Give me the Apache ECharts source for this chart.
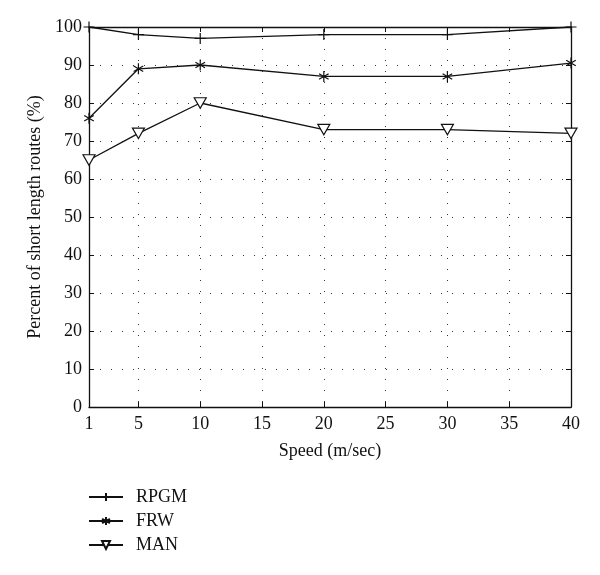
<!DOCTYPE html>
<html>
<head>
<meta charset="utf-8">
<script src="https://cdn.jsdelivr.net/npm/echarts@6/dist/echarts.min.js"></script>
<style>html,body{margin:0;padding:0;background:#fff}#c{width:600px;height:575px}</style>
</head>
<body>
<div id="c"></div>
<script>
var speeds = [1, 5, 10, 20, 30, 40];
var rpgm = [100, 98, 97, 98, 98, 100];
var frw = [76, 89, 90, 87, 87, 90.5];
var man = [65, 72, 80, 73, 73, 72];
var xTicks = [1, 5, 10, 15, 20, 25, 30, 35, 40];
var seriesNames = ['RPGM', 'FRW', 'MAN'];

var font = 'Liberation Serif';
var ink = '#111';
function pairs(ys) { return speeds.map(function (x, i) { return [x, ys[i]]; }); }

var plusSym = 'path://M0,-1L0,1M-1,0L1,0';
var starSym = 'path://M0,-1L0,1M-0.87,-0.5L0.87,0.5M-0.87,0.5L0.87,-0.5';
var triSym = 'path://M-1,-0.85L1,-0.85L0,0.9Z';

var chart = echarts.init(document.getElementById('c'));
function mk(name, ys, sym, size, fill) {
  return {
    name: name, type: 'line', data: pairs(ys), xAxisIndex: 0, yAxisIndex: 0,
    symbol: sym, symbolSize: size, symbolKeepAspect: true, showSymbol: true,
    lineStyle: { color: ink, width: 1.3 },
    itemStyle: { color: fill, borderColor: ink, borderWidth: 1.2 },
    emphasis: { disabled: true }, animation: false, z: 5
  };
}
chart.setOption({
  animation: false,
  textStyle: { fontFamily: font, color: ink },
  grid: { left: 89, right: 29, top: 27, bottom: 168 },
  legend: {
    orient: 'vertical', left: 88, top: 488, padding: 0, itemGap: 6, itemWidth: 34, itemHeight: 10,
    textStyle: { fontFamily: font, fontSize: 18, color: ink, padding: [0, 0, 0, 8] },
    data: seriesNames
  },
  xAxis: [{
    type: 'value', min: 1, max: 40, position: 'bottom',
    name: 'Speed (m/sec)', nameLocation: 'middle', nameGap: 35,
    nameTextStyle: { fontFamily: font, fontSize: 18, color: ink },
    axisLine: { lineStyle: { color: ink, width: 1.3 } },
    axisTick: { inside: true, length: 5, customValues: xTicks, lineStyle: { color: ink } },
    axisLabel: { customValues: xTicks, fontFamily: font, fontSize: 18, color: ink, margin: 8 },
    splitLine: { show: true, lineStyle: { color: '#333', type: [1, 10], width: 1 } }
  }, {
    type: 'value', min: 1, max: 40, position: 'top',
    axisLine: { show: true, onZero: false, lineStyle: { color: ink, width: 1.3 } },
    axisTick: { show: true, inside: true, length: 5, customValues: xTicks, lineStyle: { color: ink } },
    axisLabel: { show: false }, splitLine: { show: false }
  }],
  yAxis: [{
    type: 'value', min: 0, max: 100, interval: 10, position: 'left',
    name: 'Percent of short length routes (%)', nameLocation: 'middle', nameGap: 43,
    nameTextStyle: { fontFamily: font, fontSize: 18, color: ink },
    axisLine: { show: true, lineStyle: { color: ink, width: 1.3 } },
    axisTick: { show: true, inside: true, length: 5, lineStyle: { color: ink } },
    axisLabel: { fontFamily: font, fontSize: 18, color: ink, margin: 7 },
    splitLine: { show: true, lineStyle: { color: '#333', type: [1, 10], width: 1 } }
  }, {
    type: 'value', min: 0, max: 100, interval: 10, position: 'right',
    axisLine: { show: true, onZero: false, lineStyle: { color: ink, width: 1.3 } },
    axisTick: { show: true, inside: true, length: 5, lineStyle: { color: ink } },
    axisLabel: { show: false }, splitLine: { show: false }
  }],
  series: [
    mk('RPGM', rpgm, plusSym, 11, 'none'),
    mk('FRW', frw, starSym, 11, 'none'),
    mk('MAN', man, triSym, 12, '#fff')
  ]
});
</script>
</body>
</html>
